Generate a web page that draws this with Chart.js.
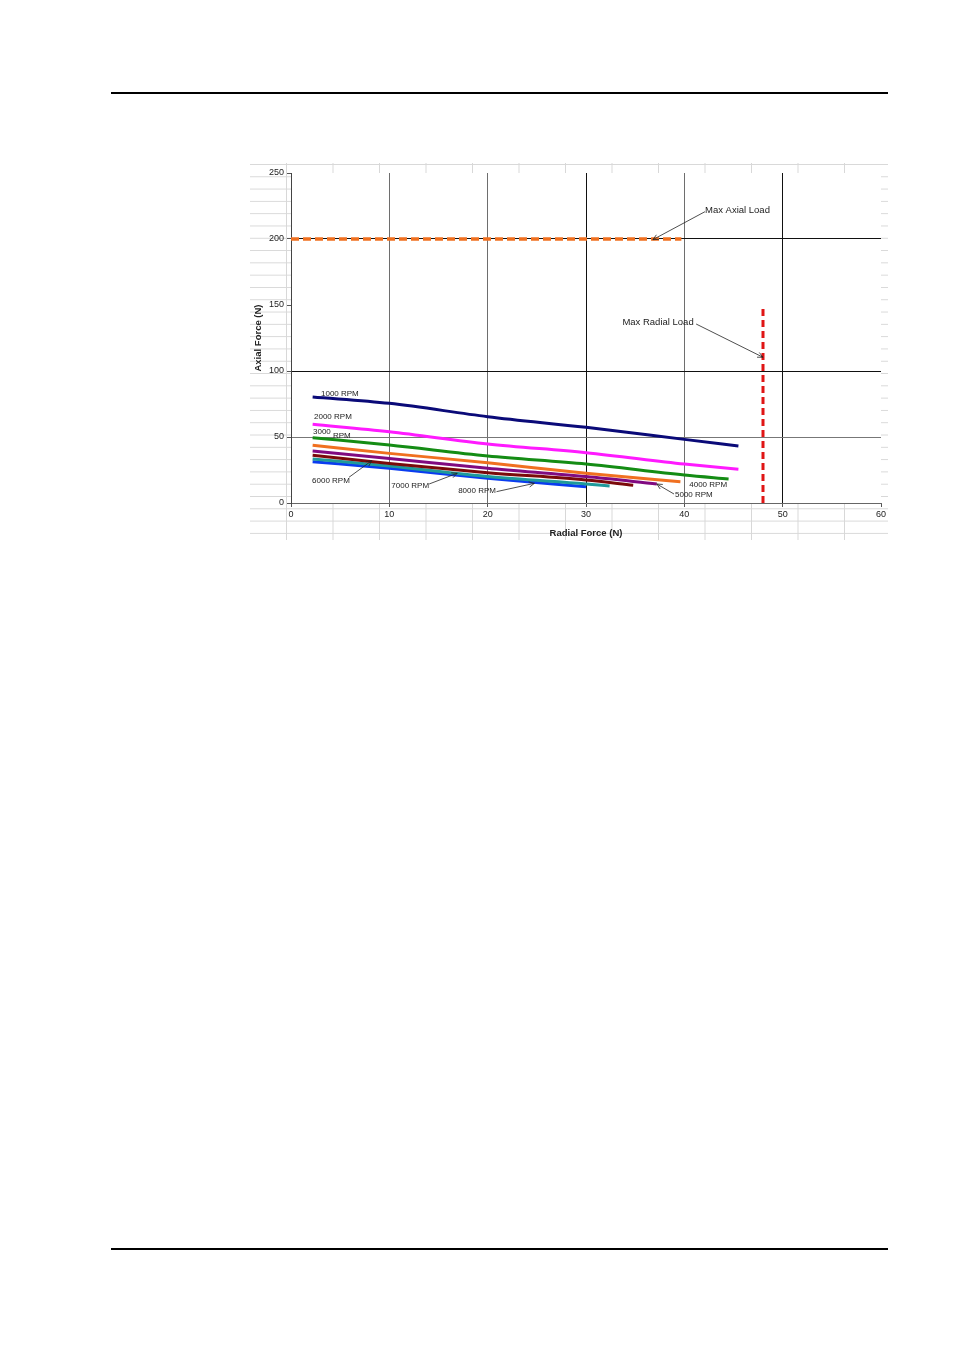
<!DOCTYPE html>
<html>
<head>
<meta charset="utf-8">
<script src="https://cdn.jsdelivr.net/npm/chart.js@4"></script>
<style>
  html, body { margin: 0; padding: 0; background: #fff; }
  body { width: 955px; height: 1350px; position: relative; overflow: hidden; }
  .rule { position: absolute; left: 111px; width: 777px; height: 2px; background: #000; }
  #sheet {
    position: absolute; left: 250px; top: 163px; width: 638px; height: 377px;
    background-image: linear-gradient(to right, #d8d8d8 1px, transparent 1px),
                      linear-gradient(to bottom, #d8d8d8 1px, transparent 1px);
    background-size: 46.5px 100%, 100% 12.3px;
    background-position: 36px 0, 0 1px;
  }
  #wrap { position: absolute; left: 245px; top: 160px; width: 645px; height: 385px; }
</style>
</head>
<body>
<div class="rule" style="top:92px"></div>
<div class="rule" style="top:1248px"></div>
<div id="sheet"></div>
<div id="wrap"><canvas id="c" width="645" height="385"></canvas></div>
<script>
// ---- data ----
const rpm1000X = [2.2, 10, 20, 30, 40, 45.5];
const rpm1000Y = [80.3, 75.5, 65.4, 57.3, 48.2, 43.2];
const rpm2000X = [2.2, 10, 20, 30, 40, 45.5];
const rpm2000Y = [59.6, 54.0, 44.7, 38.1, 29.5, 25.5];
const rpm3000X = [2.2, 10, 20, 30, 40, 44.5];
const rpm3000Y = [49.5, 43.9, 35.6, 29.5, 21.2, 18.2];
const rpm4000X = [2.2, 10, 20, 30, 39.6];
const rpm4000Y = [43.7, 37.6, 30.5, 22.5, 16.1];
const rpm5000X = [2.2, 10, 20, 30, 37.2];
const rpm5000Y = [39.4, 33.8, 26.3, 20.0, 14.4];
const rpm6000X = [2.2, 10, 20, 30, 34.8];
const rpm6000Y = [36.1, 30.0, 23.0, 17.4, 13.4];
const rpm7000X = [2.2, 10, 20, 30, 32.4];
const rpm7000Y = [33.3, 28.0, 20.0, 14.4, 12.9];
const rpm8000X = [2.2, 10, 20, 30];
const rpm8000Y = [31.3, 26.3, 18.7, 12.4];
const maxAxialX = [0, 39.7];
const maxAxialY = [200, 200];
const maxRadialX = [48, 48];
const maxRadialY = [0, 150];

const seriesNames = ['1000 RPM','2000 RPM','3000 RPM','4000 RPM','5000 RPM','6000 RPM','7000 RPM','8000 RPM'];
const seriesColors = ['#0a0a78','#ff1aff','#148c14','#f07020','#800a80','#7a0a0a','#1f9a9a','#0a3cf0'];

const xTicks = [0, 10, 20, 30, 40, 50, 60];
const yTicks = [0, 50, 100, 150, 200, 250];

const labelTexts = ['1000 RPM','2000 RPM','3000','RPM','4000 RPM','5000 RPM','6000 RPM','7000 RPM','8000 RPM','Max Axial Load','Max Radial Load'];
const labelX = [3.05, 2.34, 2.24, 4.27, 40.5, 39.05, 2.14, 10.2, 17.0, 42.1, 33.7];
const labelY = [82.6, 65.2, 53.8, 50.9, 13.6, 6.3, 16.7, 13.1, 9.1, 222.0, 136.9];

const arrowFromX = [38.95, 5.9, 14.05, 20.9, 42.1, 41.2];
const arrowFromY = [6.8, 19.5, 14.4, 8.6, 220.7, 135.6];
const arrowToX = [37.2, 8.2, 16.9, 24.75, 36.8, 48.0];
const arrowToY = [14.4, 32.0, 22.5, 14.9, 199.5, 110.4];

// ---- build ----
const zip = (xs, ys) => xs.map((x, i) => ({x, y: ys[i]}));
const rpmX = [rpm1000X, rpm2000X, rpm3000X, rpm4000X, rpm5000X, rpm6000X, rpm7000X, rpm8000X];
const rpmY = [rpm1000Y, rpm2000Y, rpm3000Y, rpm4000Y, rpm5000Y, rpm6000Y, rpm7000Y, rpm8000Y];

const datasets = seriesNames.map((n, i) => ({
  label: n, data: zip(rpmX[i], rpmY[i]), borderColor: seriesColors[i],
  borderWidth: 3, showLine: true, pointRadius: 0, tension: 0.35,
  cubicInterpolationMode: 'monotone', fill: false
}));
datasets.push({ label: 'Max Axial Load', data: zip(maxAxialX, maxAxialY), borderColor: '#f07020',
  borderWidth: 3.5, borderDash: [8, 4], showLine: true, pointRadius: 0, fill: false });
datasets.push({ label: 'Max Radial Load', data: zip(maxRadialX, maxRadialY), borderColor: '#e01515',
  borderWidth: 3, borderDash: [7, 4], showLine: true, pointRadius: 0, fill: false });

const FONT = "'Liberation Sans', Arial, sans-serif";
Chart.defaults.font.family = FONT;

const plotBg = {
  id: 'plotBg',
  beforeDraw(chart) {
    const {ctx, chartArea: a} = chart;
    ctx.save(); ctx.fillStyle = '#fff';
    ctx.fillRect(a.left, a.top, a.right - a.left, a.bottom - a.top);
    ctx.restore();
  }
};

const notes = {
  id: 'notes',
  afterDatasetsDraw(chart) {
    const {ctx, scales: {x, y}} = chart;
    ctx.save();
    ctx.fillStyle = '#222';
    ctx.textBaseline = 'middle';
    ctx.textAlign = 'left';
    labelTexts.forEach((t, i) => {
      ctx.font = (i >= 9 ? '9.5px ' : '8px ') + FONT;
      ctx.fillText(t, x.getPixelForValue(labelX[i]), y.getPixelForValue(labelY[i]));
    });
    ctx.strokeStyle = '#222';
    ctx.lineWidth = 0.8;
    arrowFromX.forEach((fx, i) => {
      const x1 = x.getPixelForValue(fx), y1 = y.getPixelForValue(arrowFromY[i]);
      const x2 = x.getPixelForValue(arrowToX[i]), y2 = y.getPixelForValue(arrowToY[i]);
      ctx.beginPath(); ctx.moveTo(x1, y1); ctx.lineTo(x2, y2); ctx.stroke();
      const ang = Math.atan2(y2 - y1, x2 - x1), L = 6, w = 0.45;
      ctx.beginPath();
      ctx.moveTo(x2 - L * Math.cos(ang - w), y2 - L * Math.sin(ang - w));
      ctx.lineTo(x2, y2);
      ctx.lineTo(x2 - L * Math.cos(ang + w), y2 - L * Math.sin(ang + w));
      ctx.stroke();
    });
    ctx.restore();
  }
};

const xGridColor = v => ({10: '#6e6e6e', 20: '#6e6e6e', 30: '#111', 40: '#6e6e6e', 50: '#111'}[v] || 'rgba(0,0,0,0)');
const yGridColor = v => ({50: '#777', 100: '#111', 200: '#111'}[v] || 'rgba(0,0,0,0)');

new Chart(document.getElementById('c'), {
  type: 'scatter',
  data: { datasets },
  options: {
    responsive: false, animation: false, devicePixelRatio: 1,
    layout: { padding: { top: 13, right: 9, left: 0, bottom: 0 } },
    plugins: { legend: { display: false }, tooltip: { enabled: false } },
    scales: {
      x: {
        type: 'linear', min: 0, max: 60,
        afterFit(s) { s.height = 42; },
        afterBuildTicks(s) { s.ticks = xTicks.map(v => ({value: v})); },
        ticks: { color: '#222', font: { size: 9 }, padding: 2, maxRotation: 0 },
        grid: { color: c => xGridColor(c.tick && c.tick.value), tickColor: '#555', tickLength: 4, lineWidth: 1 },
        border: { display: true, color: '#666', width: 1 },
        title: { display: true, text: 'Radial Force (N)', color: '#222', font: { size: 9.5, weight: 'bold' }, padding: { top: 0, bottom: 6 } }
      },
      y: {
        type: 'linear', min: 0, max: 250,
        afterFit(s) { s.width = 46; },
        afterBuildTicks(s) { s.ticks = yTicks.map(v => ({value: v})); },
        ticks: { color: '#222', font: { size: 9 }, padding: 3 },
        grid: { color: c => yGridColor(c.tick && c.tick.value), tickColor: '#555', tickLength: 4, lineWidth: 1 },
        border: { display: true, color: '#444', width: 1 },
        title: { display: true, text: 'Axial Force (N)', color: '#222', font: { size: 9.5, weight: 'bold' }, padding: { top: 8, bottom: 0 } }
      }
    }
  },
  plugins: [plotBg, notes]
});
</script>
</body>
</html>
